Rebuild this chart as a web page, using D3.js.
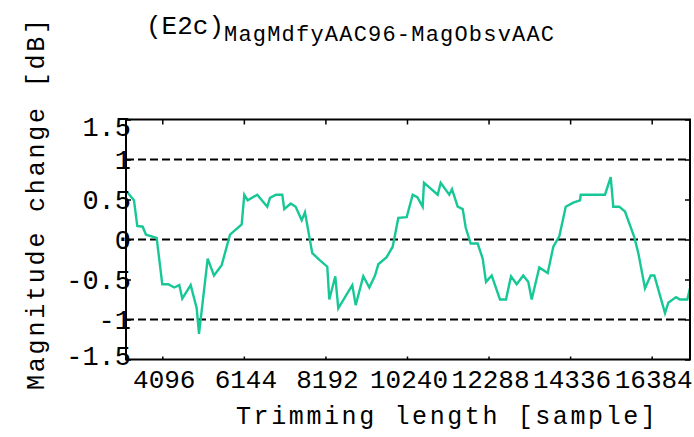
<!DOCTYPE html>
<html>
<head>
<meta charset="utf-8">
<script src="https://cdn.jsdelivr.net/npm/d3@7"></script>
<style>
  html, body { margin: 0; padding: 0; background: #fff; }
  svg { display: block; }
  text { font-family: "Liberation Mono", "DejaVu Sans Mono", monospace; fill: #000; }
</style>
</head>
<body>
<svg id="chart" width="694" height="437"></svg>
<script>
// Trimming length in samples
const trimLength = [3202,3385,3468,3604,3687,3955,4096,4247,4397,4523,4598,4809,4960,5018,5236,5394,5587,5796,6090,6155,6240,6481,6732,6800,6951,7109,7159,7320,7446,7596,7679,7862,8056,8239,8289,8440,8515,8867,8952,9143,9294,9437,9520,9730,9881,10022,10233,10383,10499,10634,10667,11011,11086,11302,11370,11513,11639,11714,11840,12015,12141,12224,12367,12575,12726,12852,12995,13160,13286,13371,13562,13773,13914,14064,14165,14225,14416,14584,14602,15212,15355,15420,15571,15714,15947,16048,16216,16359,16450,16718,16801,16994,17095,17278,17346];

// Magnitude change in dB (MagMdfyAAC96 - MagObsvAAC)
const magChange = [0.60,0.49,0.17,0.16,0.06,0.02,-0.56,-0.56,-0.60,-0.57,-0.74,-0.57,-0.86,-1.18,-0.24,-0.45,-0.32,0.06,0.19,0.56,0.49,0.56,0.41,0.52,0.56,0.56,0.38,0.45,0.41,0.24,0.34,-0.17,-0.26,-0.34,-0.75,-0.46,-0.86,-0.57,-0.82,-0.46,-0.60,-0.45,-0.31,-0.22,-0.09,0.27,0.28,0.56,0.53,0.41,0.71,0.56,0.71,0.56,0.63,0.41,0.38,0.15,-0.05,-0.05,-0.24,-0.53,-0.45,-0.75,-0.75,-0.46,-0.56,-0.45,-0.53,-0.75,-0.35,-0.42,-0.09,0.04,0.27,0.41,0.46,0.49,0.56,0.56,0.78,0.41,0.41,0.35,0.03,-0.17,-0.61,-0.45,-0.45,-0.92,-0.79,-0.72,-0.75,-0.75,-0.61];

const xTicks = [4096, 6144, 8192, 10240, 12288, 14336, 16384];
const yTicks = [-1.5, -1, -0.5, 0, 0.5, 1, 1.5];
const yTickLabels = ["-1.5", "-1", "-0.5", "0", "0.5", "1", "1.5"];
const refLevels = [1, 0, -1];
const xDomain = [3185, 17346];
const yDomain = [-1.5, 1.5];

const margin = { left: 126, right: 4, top: 119.5, bottom: 77.5 };
const W = 694, H = 437;
const pw = W - margin.left - margin.right;
const ph = H - margin.top - margin.bottom;

const svg = d3.select("#chart");
const g = svg.append("g").attr("transform", `translate(${margin.left},${margin.top})`);

const x = d3.scaleLinear().domain(xDomain).range([0, pw]);
const y = d3.scaleLinear().domain(yDomain).range([ph, 0]);

g.append("clipPath").attr("id", "plotClip")
  .append("rect").attr("width", pw).attr("height", ph);

// dashed reference levels
g.selectAll("line.ref").data(refLevels).join("line")
  .attr("class", "ref")
  .attr("x1", 0).attr("x2", pw)
  .attr("y1", d => y(d)).attr("y2", d => y(d))
  .attr("stroke", "#000").attr("stroke-width", 2)
  .attr("stroke-dasharray", "8,4");

// data line
const pts = d3.zip(trimLength, magChange);
g.append("path")
  .datum(pts)
  .attr("clip-path", "url(#plotClip)")
  .attr("fill", "none")
  .attr("stroke", "#17c896")
  .attr("stroke-width", 2.4)
  .attr("stroke-linejoin", "miter")
  .attr("d", d3.line().x(d => x(d[0])).y(d => y(d[1])));

// axes with inward ticks
const axTop = g.append("g").call(d3.axisTop(x).tickValues(xTicks).tickSize(-5).tickFormat(""));
const axBot = g.append("g").attr("transform", `translate(0,${ph})`)
  .call(d3.axisBottom(x).tickValues(xTicks).tickSize(-3).tickFormat(""));
const axLeft = g.append("g").call(d3.axisLeft(y).tickValues(yTicks).tickSize(-5).tickFormat(""));
const axRight = g.append("g").attr("transform", `translate(${pw},0)`)
  .call(d3.axisRight(y).tickValues(yTicks).tickSize(-5).tickFormat(""));
[axTop, axBot, axLeft, axRight].forEach(a => {
  a.select(".domain").remove();
  a.selectAll(".tick line").attr("stroke", "#000").attr("stroke-width", 1.5);
});

// frame
g.append("rect")
  .attr("width", pw).attr("height", ph)
  .attr("fill", "none").attr("stroke", "#000").attr("stroke-width", 2);

// x tick labels
g.selectAll("text.xt").data(xTicks).join("text")
  .attr("class", "xt")
  .attr("x", d => x(d) + 2)
  .attr("y", ph + 28)
  .attr("text-anchor", "middle")
  .attr("font-size", 26)
  .text(d => d);

// y tick labels
g.selectAll("text.yt").data(yTicks).join("text")
  .attr("class", "yt")
  .attr("x", 5)
  .attr("y", (d, i) => y(d) + 9 + (d === 1.5 ? 7 : d === -1.5 ? -4 : 0))
  .attr("text-anchor", "end")
  .attr("font-size", 27)
  .text((d, i) => yTickLabels[i]);

// axis titles
svg.append("text")
  .attr("x", 236).attr("y", 424)
  .attr("font-size", 25)
  .attr("letter-spacing", 2.6)
  .text("Trimming length [sample]");

svg.append("text")
  .attr("transform", "translate(44,390) rotate(-90)")
  .attr("font-size", 25)
  .attr("letter-spacing", 2.8)
  .text("Magnitude change [dB]");

// title with subscript
const title = svg.append("text").attr("x", 146).attr("y", 34);
title.append("tspan").attr("font-size", 26).text("(E2c)");
title.append("tspan").attr("font-size", 22).attr("dy", 7).attr("letter-spacing", 1.2).text("MagMdfyAAC96-MagObsvAAC");
</script>
</body>
</html>
